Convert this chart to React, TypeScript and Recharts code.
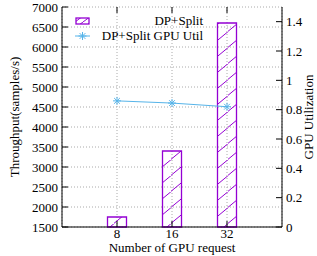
import { Bar, CartesianGrid, ComposedChart, Line, XAxis, YAxis } from "recharts";

const gpus = ["8", "16", "32"];
const throughput = [1750, 3400, 6600];
const gpuUtil = [0.86, 0.845, 0.82];
const leftTicks = [1500, 2000, 2500, 3000, 3500, 4000, 4500, 5000, 5500, 6000, 6500, 7000];
const rightTicks = [0, 0.2, 0.4, 0.6, 0.8, 1, 1.2, 1.4];

const PURPLE = "#9400d3";
const BLUE = "#56b4e9";
const FONT = "'Liberation Serif', 'DejaVu Serif', serif";

const data = gpus.map((g, i) => ({ gpu: g, tput: throughput[i], util: gpuUtil[i] }));

function Star({ cx, cy, size = 4 }: { cx?: number; cy?: number; size?: number }) {
  if (cx == null || cy == null) return null;
  const d = size * 0.72;
  return (
    <g stroke={BLUE} strokeWidth={1}>
      <line x1={cx - size} y1={cy} x2={cx + size} y2={cy} />
      <line x1={cx} y1={cy - size} x2={cx} y2={cy + size} />
      <line x1={cx - d} y1={cy - d} x2={cx + d} y2={cy + d} />
      <line x1={cx - d} y1={cy + d} x2={cx + d} y2={cy - d} />
    </g>
  );
}

function LeftTick(props: any) {
  const { x, y, payload } = props;
  return (
    <g>
      <line x1={x + 4} y1={y} x2={x + 10} y2={y} stroke="#000" />
      <text x={x} y={y} dy={4.5} textAnchor="end" fontSize={13} fontFamily={FONT} fill="#000">
        {payload.value}
      </text>
    </g>
  );
}

function RightTick(props: any) {
  const { x, y, payload } = props;
  return (
    <g>
      <line x1={x - 4} y1={y} x2={x - 10} y2={y} stroke="#000" />
      <text x={x} y={y} dy={4.5} textAnchor="start" fontSize={13} fontFamily={FONT} fill="#000">
        {payload.value}
      </text>
    </g>
  );
}

function BottomTick(props: any) {
  const { x, y, payload } = props;
  return (
    <g>
      <line x1={x} y1={y} x2={x} y2={y - 6} stroke="#000" />
      <line x1={x} y1={7} x2={x} y2={13} stroke="#000" />
      <text x={x} y={y} dy={11} textAnchor="middle" fontSize={13} fontFamily={FONT} fill="#000">
        {payload.value}
      </text>
    </g>
  );
}

function LegendBox() {
  const row = { display: "flex", alignItems: "center", height: 15 } as const;
  const label = { width: 112, textAlign: "right", fontSize: 13, fontFamily: FONT, color: "#000", lineHeight: "15px" } as const;
  return (
    <div style={{ position: "absolute", left: 70, top: 13, width: 140 }}>
      <div style={row}>
        <svg width={16} height={10} style={{ marginLeft: 5 }}>
          <defs>
            <pattern id="hatchLegend" patternUnits="userSpaceOnUse" width={8} height={6}>
              <path d="M0,6 L8,0" stroke={PURPLE} strokeWidth={1} />
            </pattern>
          </defs>
          <rect x={1} y={2} width={13} height={6} fill="url(#hatchLegend)" stroke={PURPLE} strokeWidth={1.3} />
        </svg>
        <div style={label}>DP+Split</div>
      </div>
      <div style={row}>
        <svg width={16} height={10} style={{ marginLeft: 5 }}>
          <line x1={0} y1={5} x2={15} y2={5} stroke={BLUE} />
          <Star cx={7.5} cy={5} size={4} />
        </svg>
        <div style={label}>DP+Split GPU Util</div>
      </div>
    </div>
  );
}

export default function App() {
  return (
    <div style={{ position: "absolute", left: 0, top: 0, width: 317, height: 256, background: "#fff" }}>
      <ComposedChart
        width={317}
        height={256}
        data={data}
        margin={{ top: 7, right: 0, bottom: 0, left: 0 }}
        barSize={19}
      >
        <defs>
          <pattern id="hatch" patternUnits="userSpaceOnUse" width={19} height={16}>
            <path d="M-2,17 L21,-2" stroke={PURPLE} strokeWidth={1} />
          </pattern>
        </defs>
        <CartesianGrid stroke="#aaa" strokeDasharray="1 2" yAxisId="left" />
        <XAxis
          dataKey="gpu"
          height={29}
          padding={{ left: 27.5, right: 27.5 }}
          stroke="#000"
          tickLine={false}
          tickSize={0}
          tickMargin={0}
          tick={<BottomTick />}
          label={{ value: "Number of GPU request", position: "insideBottom", offset: 4, fontSize: 13, fontFamily: FONT, fill: "#000" }}
        />
        <XAxis dataKey="gpu" xAxisId="top" orientation="top" height={0} tick={false} tickLine={false} stroke="#000" />
        <YAxis
          yAxisId="left"
          width={62}
          domain={[1500, 7000]}
          ticks={leftTicks}
          interval={0}
          stroke="#000"
          tickLine={false}
          tickSize={0}
          tickMargin={4}
          tick={<LeftTick />}
          label={{ value: "Throughput(samples/s)", angle: -90, position: "insideLeft", offset: 14, fontSize: 13, fontFamily: FONT, fill: "#000", style: { textAnchor: "middle" } }}
        />
        <YAxis
          yAxisId="right"
          orientation="right"
          width={35}
          domain={[0, 1.5]}
          ticks={rightTicks}
          interval={0}
          stroke="#000"
          tickLine={false}
          tickSize={0}
          tickMargin={4}
          tick={<RightTick />}
          label={{ value: "GPU Utilization", angle: -90, position: "insideRight", offset: 9, fontSize: 13, fontFamily: FONT, fill: "#000", style: { textAnchor: "middle" } }}
        />
        <Bar
          yAxisId="left"
          dataKey="tput"
          name="DP+Split"
          fill="url(#hatch)"
          stroke={PURPLE}
          strokeWidth={1.3}
          isAnimationActive={false}
        />
        <Line
          yAxisId="right"
          dataKey="util"
          name="DP+Split GPU Util"
          stroke={BLUE}
          strokeWidth={1}
          dot={<Star />}
          activeDot={false}
          isAnimationActive={false}
        />
      </ComposedChart>
      <LegendBox />
    </div>
  );
}
